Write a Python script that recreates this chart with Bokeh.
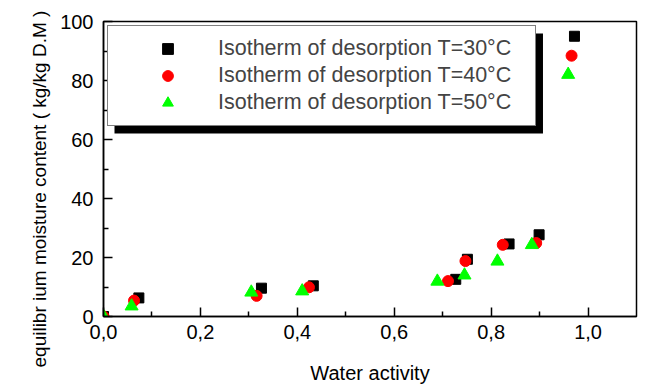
from bokeh.plotting import figure
from bokeh.models import (Range1d, FixedTicker, CustomJSTickFormatter, Legend,
                          LegendItem, BoxAnnotation, Title)
from bokeh.embed import file_html
from bokeh.resources import INLINE

# Data
aw_30 = [0.0, 0.073, 0.326, 0.433, 0.727, 0.751, 0.837, 0.899, 0.972]
m_30 = [0.0, 6.3, 9.6, 10.4, 12.6, 19.4, 24.6, 27.7, 95.0]
aw_40 = [0.0, 0.063, 0.316, 0.424, 0.711, 0.747, 0.824, 0.893, 0.966]
m_40 = [0.0, 5.4, 7.0, 9.9, 12.0, 18.8, 24.3, 24.9, 88.4]
aw_50 = [0.0, 0.058, 0.305, 0.410, 0.689, 0.745, 0.813, 0.884, 0.959]
m_50 = [0.0, 3.5, 8.2, 8.6, 11.9, 14.0, 18.7, 24.3, 82.0]

label_30 = "Isotherm of desorption T=30°C"
label_40 = "Isotherm of desorption T=40°C"
label_50 = "Isotherm of desorption T=50°C"
x_title = "Water activity"
y_title = "equilibr ium moisture content ( kg/kg D.M )"

x_ticks = [0.0, 0.2, 0.4, 0.6, 0.8, 1.0]
x_tick_labels = ["0,0", "0,2", "0,4", "0,6", "0,8", "1,0"]
x_minor = [0.1, 0.3, 0.5, 0.7, 0.9]
y_ticks = [0, 20, 40, 60, 80, 100]
y_tick_labels = ["0", "20", "40", "60", "80", "100"]
y_minor = [10, 30, 50, 70, 90]

FONT = "Liberation Sans"

p = figure(width=649, height=392, output_backend="svg", toolbar_location=None,
           x_range=Range1d(0, 1.1), y_range=Range1d(0, 100),
           min_border_left=103, min_border_right=13, min_border_top=21,
           min_border_bottom=76)
p.grid.visible = False
p.outline_line_color = "black"
p.outline_line_width = 1.5
p.background_fill_color = "white"
p.border_fill_color = "white"

fmt_code = """
const i = tvals.findIndex(t => Math.abs(t - tick) < 1e-9);
return i >= 0 ? tlabels[i] : '';
"""
p.xaxis.ticker = FixedTicker(ticks=x_ticks, minor_ticks=x_minor)
p.xaxis.formatter = CustomJSTickFormatter(args=dict(tvals=x_ticks, tlabels=x_tick_labels), code=fmt_code)
p.yaxis.ticker = FixedTicker(ticks=y_ticks, minor_ticks=y_minor)
p.yaxis.formatter = CustomJSTickFormatter(args=dict(tvals=y_ticks, tlabels=y_tick_labels), code=fmt_code)

for ax in (p.xaxis, p.yaxis):
    ax.axis_line_width = 1.5
    ax.axis_line_color = "black"
    ax.major_tick_in = 9
    ax.major_tick_out = 0
    ax.minor_tick_in = 5
    ax.minor_tick_out = 0
    ax.major_tick_line_width = 1.5
    ax.minor_tick_line_width = 1.5
    ax.major_label_text_font = FONT
    ax.major_label_text_font_size = "20px"
    ax.major_label_text_color = "black"

p.xaxis.major_label_standoff = 8
p.yaxis.major_label_standoff = 10

p.xaxis.axis_label = x_title
p.xaxis.axis_label_text_font = FONT
p.xaxis.axis_label_text_font_size = "20px"
p.xaxis.axis_label_text_font_style = "normal"
p.xaxis.axis_label_text_color = "black"
p.xaxis.axis_label_standoff = 20

ytitle = Title(text=y_title, align="left", offset=-51, standoff=16,
               text_font=FONT, text_font_size="19px", text_font_style="normal",
               text_color="black")
p.add_layout(ytitle, "left")

r30 = p.scatter(aw_30, m_30, marker="square", size=10, color="black")
r40 = p.scatter(aw_40, m_40, marker="circle", size=11, color="red")
r50 = p.scatter(aw_50, m_50, marker="triangle", size=13, color="#00ff00")

shadow = BoxAnnotation(left=0.0227, right=0.907, top=95.9, bottom=62.0,
                       fill_color="black", fill_alpha=1.0, line_color=None)
p.add_layout(shadow)

legend = Legend(items=[LegendItem(label=label_30, renderers=[r30]),
                       LegendItem(label=label_40, renderers=[r40]),
                       LegendItem(label=label_50, renderers=[r50])],
                location=(4, 190), margin=0, padding=9, spacing=0,
                glyph_width=101, glyph_height=27, label_height=27,
                label_width=308, label_standoff=0,
                label_text_font=FONT, label_text_font_size="21.5px",
                border_line_color="black", border_line_width=1,
                background_fill_color="white", background_fill_alpha=1.0)
p.add_layout(legend, "center")

open("out.html", "w").write(file_html(p, INLINE))
